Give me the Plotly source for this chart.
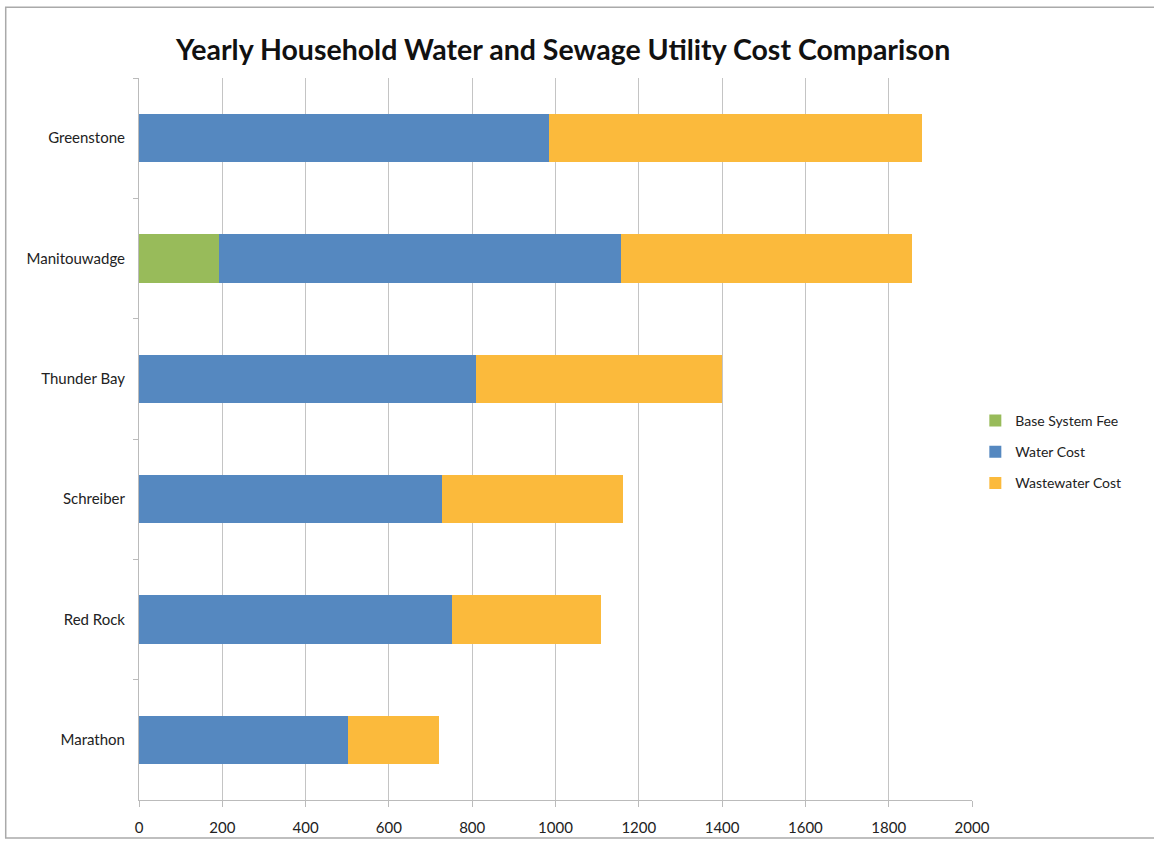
import plotly.graph_objects as go

# Towns, top to bottom
towns = ["Greenstone", "Manitouwadge", "Thunder Bay", "Schreiber", "Red Rock", "Marathon"]

# Yearly cost components ($)
base_system_fee = [0, 193, 0, 0, 0, 0]
water_cost = [984, 965, 810, 727, 752, 502]
wastewater_cost = [896, 697, 590, 435, 357, 218]

x_ticks = [0, 200, 400, 600, 800, 1000, 1200, 1400, 1600, 1800, 2000]

FONT = "Lato"

fig = go.Figure()
fig.add_trace(go.Bar(y=towns, x=base_system_fee, name="Base System Fee", legendgroup="a",
                     orientation="h", marker=dict(color="#98BB5A", line=dict(width=0))))
fig.add_trace(go.Bar(y=towns, x=water_cost, name="Water Cost", legendgroup="b",
                     orientation="h", marker=dict(color="#5588C0", line=dict(width=0))))
fig.add_trace(go.Bar(y=towns, x=wastewater_cost, name="Wastewater Cost", legendgroup="c",
                     orientation="h", marker=dict(color="#FBBA3C", line=dict(width=0))))

fig.update_layout(
    barmode="stack",
    bargap=0.6,
    width=1154, height=842,
    margin=dict(l=139, r=182, t=78, b=42, autoexpand=False),
    paper_bgcolor="white",
    plot_bgcolor="white",
    font=dict(family=FONT, size=15, color="#222222"),
    title=dict(text="<b>Yearly Household Water and Sewage Utility Cost Comparison</b>",
               x=0.488, xanchor="center", y=0.94, yanchor="middle",
               font=dict(family=FONT, size=28.5, color="#111111")),
    legend=dict(x=1.004, xanchor="left", y=0.482, yanchor="middle",
                traceorder="grouped",
                font=dict(family=FONT, size=14, color="#222222"),
                itemwidth=30, tracegroupgap=10, bgcolor="rgba(0,0,0,0)"),
    showlegend=True,
    xaxis=dict(range=[0, 2000], tickvals=x_ticks, ticktext=[str(v) for v in x_ticks],
               showgrid=True, gridcolor="#C4C4C4", gridwidth=1,
               showline=True, linecolor="#BBBBBB", linewidth=1,
               ticks="outside", ticklen=6, tickcolor="#BBBBBB",
               ticklabelstandoff=8, zeroline=False,
               tickfont=dict(family=FONT, size=15, color="#222222")),
    yaxis=dict(autorange="reversed", showgrid=False,
               showline=True, linecolor="#BBBBBB", linewidth=1,
               ticks="outside", ticklen=5, tickcolor="#BBBBBB", tickson="boundaries",
               ticklabelstandoff=10,
               tickfont=dict(family=FONT, size=15, color="#222222")),
)

# Chart frame
fig.add_shape(type="rect", xref="paper", yref="paper",
              x0=-0.160, x1=1.226, y0=-0.0526, y1=1.098,
              line=dict(color="#AAAAAA", width=1.5), fillcolor="rgba(0,0,0,0)", layer="below")

fig.write_html("out.html")
